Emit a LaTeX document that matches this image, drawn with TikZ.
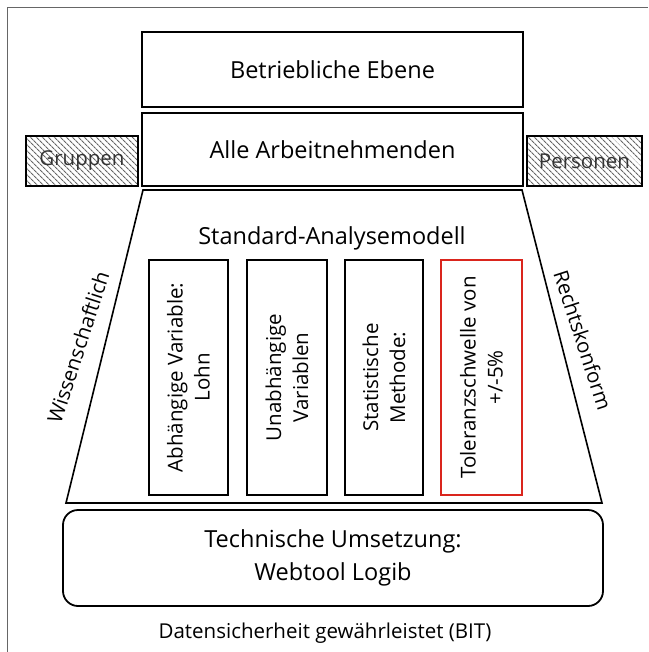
\documentclass[tikz,border=0pt]{standalone}
\usepackage{fontspec}
\setmainfont{Open Sans}
\usetikzlibrary{patterns.meta}
\definecolor{tolred}{RGB}{218,37,29}
\newcommand{\bigtxt}{\fontsize{23.5}{33}\selectfont}
\newcommand{\smalltxt}{\fontsize{20.5}{27}\selectfont}
\tikzset{
  levelbox/.style={draw, line width=1.8pt, minimum width=381pt, font=\bigtxt},
  hatchbox/.style={draw, line width=1.6pt, minimum height=50pt, font=\smalltxt, text=black!80,
    pattern={Lines[angle=-45,distance=4pt,line width=1.1pt]}, pattern color=black!60},
  modelbox/.style={draw, line width=1.6pt, rotate=90, minimum width=235pt, align=center,
    font=\smalltxt, inner sep=2pt},
  sidetext/.style={font=\smalltxt}
}

\begin{document}
\begin{tikzpicture}[x=1pt, y=-1pt]
		%%%%% START %%%%%
		\useasboundingbox (0,0) rectangle (648,652);
		
		\draw[line width=1pt, color=black!60] (7.5,652) -- (7.5,7.5) -- (648,7.5);
		
		\node[levelbox, minimum height=75pt] (ebene) at (332.5,69.5) {Betriebliche Ebene};
		\node[levelbox, minimum height=73pt] (alle) at (332.5,149.5) {Alle Arbeitnehmenden};
		\node[hatchbox, minimum width=112pt] (gruppen) at (82,161) {Gruppen};
		\node[hatchbox, minimum width=115pt] (personen) at (584.5,161) {Personen};
		
		\coordinate (trapTL) at (143,190);
		\coordinate (trapTR) at (522,190);
		\coordinate (trapBR) at (602,503);
		\coordinate (trapBL) at (66,503);
		\draw[line width=1.6pt] (trapTL) -- (trapTR) -- (trapBR) -- (trapBL) -- cycle;
		
		\node[font=\bigtxt] (modell) at (332,238) {Standard-Analysemodell};
		\node[sidetext, rotate=72] (wiss) at (78,347) {Wissenschaftlich};
		\node[sidetext, rotate=-72] (recht) at (583,340) {Rechtskonform};
		
		\node[modelbox, minimum height=79pt] (lohn) at (188.5,377.5) {Abhängige Variable:\\Lohn};
		\node[modelbox, minimum height=80pt] (unabh) at (287,377.5) {Unabhängige\\Variablen};
		\node[modelbox, minimum height=78pt] (methode) at (384,377.5) {Statistische\\Methode:};
		\node[modelbox, minimum height=81pt, draw=tolred] (toleranz) at (481.5,377.5) {Toleranzschwelle von\\+/-5\%};
		
		\node[draw, line width=1.8pt, rounded corners=15pt, minimum width=540pt, minimum height=96pt,
		  align=center, font=\bigtxt] (technik) at (333,558) {Technische Umsetzung:\\Webtool Logib};
		
		\node[font=\smalltxt] (bit) at (325,633) {Datensicherheit gewährleistet (BIT)};
		%%%%% END %%%%%
\end{tikzpicture}
\end{document}
